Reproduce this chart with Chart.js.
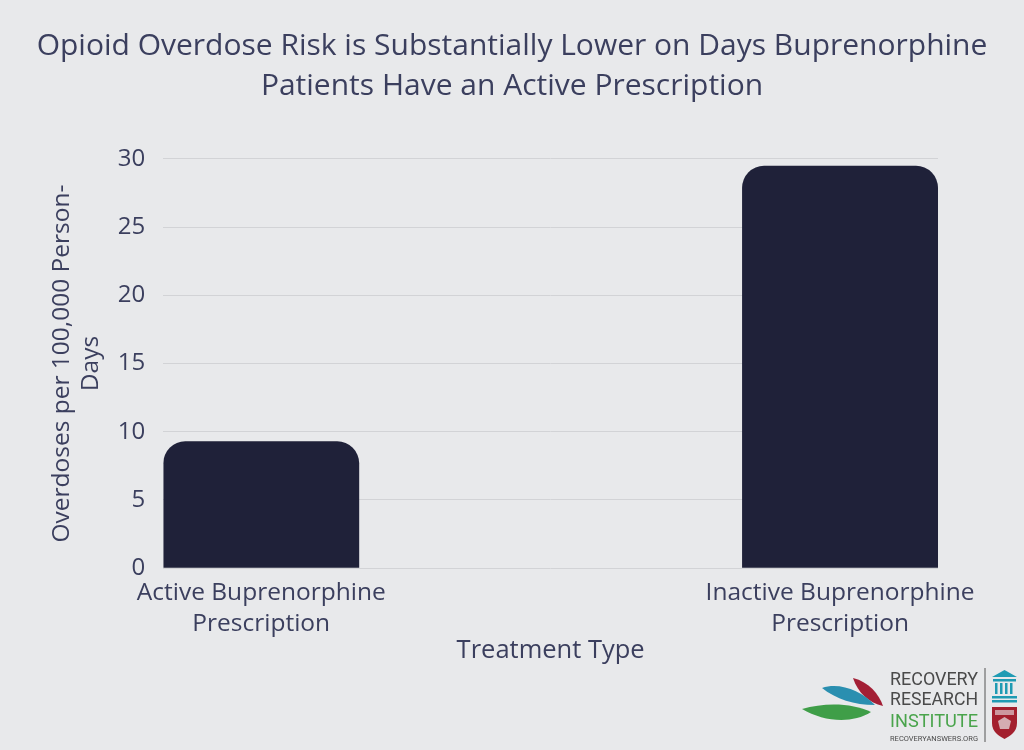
<!DOCTYPE html>
<html>
<head>
<meta charset="utf-8">
<title>Opioid Overdose Risk</title>
<script src="https://cdn.jsdelivr.net/npm/chart.js@4.4.0/dist/chart.umd.min.js"></script>
<style>
  html, body { margin: 0; padding: 0; background: #e8e9eb; }
  #wrap { position: relative; width: 1024px; height: 750px; }
  #logo { position: absolute; left: 790px; top: 655px; }
</style>
</head>
<body>
<div id="wrap">
  <canvas id="chart" width="1024" height="750"></canvas>
  <!-- logo, bottom right -->
  <svg id="logo" width="234" height="95" viewBox="0 0 234 95">
    <path d="M63,23 C79,27 89,39 93,51 C79,48 68,38 63,23 Z" fill="#a31f35"/>
    <path d="M32,33 C50,27 71,36 85,50 C64,50 46,44 32,33 Z" fill="#2a8fb0"/>
    <path d="M12,54 C35,47 63,48 81,57 C62,69 34,67 12,54 Z" fill="#3f9e48"/>
    <g font-family="'Liberation Sans Narrow', 'Roboto', sans-serif" fill="#4a4a4a">
      <text x="100" y="30" font-size="19" textLength="88" lengthAdjust="spacingAndGlyphs">RECOVERY</text>
      <text x="100" y="50" font-size="19" textLength="88" lengthAdjust="spacingAndGlyphs">RESEARCH</text>
      <text x="100" y="72" font-size="19" fill="#4aa44c" textLength="88" lengthAdjust="spacingAndGlyphs">INSTITUTE</text>
      <text x="100" y="86" font-size="7.5" textLength="88" lengthAdjust="spacingAndGlyphs">RECOVERYANSWERS.ORG</text>
    </g>
    <line x1="195" y1="13" x2="195" y2="87" stroke="#555" stroke-width="1"/>
    <g fill="#1f9bb3">
      <path d="M202,22 L214.5,15 L227,22 Z"/>
      <rect x="203" y="24" width="23" height="2.5"/>
      <rect x="205" y="28" width="2.5" height="11"/>
      <rect x="210" y="28" width="2.5" height="11"/>
      <rect x="215" y="28" width="2.5" height="11"/>
      <rect x="220" y="28" width="2.5" height="11"/>
      <rect x="202" y="41" width="25" height="2.5"/>
      <rect x="202" y="45" width="25" height="2.5"/>
    </g>
    <path d="M202,52 H227 V68 C227,77 220,81 214.5,84 C209,81 202,77 202,68 Z" fill="#a3202e"/>
    <path d="M205,55 H224 V60 H205 Z" fill="#e8e9eb" opacity="0.6"/>
    <path d="M208,66 L214.5,62 L221,66 L219,74 L210,74 Z" fill="#e8e9eb" opacity="0.7"/>
  </svg>
</div>
<script>
// ====== data ======
const categories = [
  ["Active Buprenorphine", "Prescription"],
  ["Inactive Buprenorphine", "Prescription"]
];
const overdoseRates = [9.3, 29.5];
const yTicks = [0, 5, 10, 15, 20, 25, 30];

const chartTitle = [
  "Opioid Overdose Risk is Substantially Lower on Days Buprenorphine",
  "Patients Have an Active Prescription"
];
const yTitle = ["Overdoses per 100,000 Person-", "Days"];
const xTitle = "Treatment Type";

// ====== style ======
const textColor = "#3b3f5e";
const barColor = "#1f2139";
const gridColor = "#d2d3d6";
const fontFamily = "'Open Sans', 'Noto Sans', sans-serif";

// bars sit flush with the plot edges: pad the x range by half a bar
const barRatio = 0.3385;

let ctx = document.getElementById("chart").getContext("2d");

let chart = new Chart(ctx, {
  type: "bar",
  data: {
    datasets: [{
      data: overdoseRates.map((v, i) => ({ x: i, y: v })),
      backgroundColor: barColor,
      borderRadius: 22,
      borderSkipped: "start",
      categoryPercentage: 1,
      barPercentage: barRatio
    }]
  },
  options: {
    responsive: false,
    animation: false,
    layout: { padding: { left: 0, right: 0, top: 0, bottom: 84 } },
    plugins: {
      legend: { display: false },
      tooltip: { enabled: false },
      title: {
        display: true,
        text: chartTitle,
        color: textColor,
        font: { family: fontFamily, size: 30, weight: "normal", lineHeight: 1.333 },
        padding: { top: 26, bottom: 53 }
      }
    },
    scales: {
      x: {
        type: "linear",
        offset: false,
        min: -barRatio / 2,
        max: categories.length - 1 + barRatio / 2,
        afterBuildTicks: s => { s.ticks = categories.map((c, i) => ({ value: i })); },
        grid: { display: false },
        border: { display: false },
        ticks: {
          callback: v => categories[v] || "",
          color: textColor,
          font: { family: fontFamily, size: 24.5, lineHeight: 1.27 },
          padding: 1,
          maxRotation: 0,
          autoSkip: false
        },
        title: {
          display: true,
          text: xTitle,
          color: textColor,
          font: { family: fontFamily, size: 25.5, lineHeight: 1.2 },
          padding: { top: -5, bottom: 0 }
        }
      },
      y: {
        min: 0,
        max: 30,
        afterBuildTicks: s => { s.ticks = yTicks.map(v => ({ value: v })); },
        grid: { color: gridColor, lineWidth: 1, drawTicks: false },
        border: { display: false },
        ticks: {
          color: textColor,
          font: { family: fontFamily, size: 24 },
          padding: 18
        },
        title: {
          display: true,
          text: yTitle,
          color: textColor,
          font: { family: fontFamily, size: 24.5, lineHeight: 1.18 },
          padding: { top: 48, bottom: -6 }
        }
      },
      // empty right margin so the plot ends where the reference's does
      yRight: {
        position: "right",
        grid: { display: false },
        border: { display: false },
        ticks: { display: false },
        afterFit: s => { s.width = 86; }
      }
    }
  }
});
</script>
</body>
</html>
